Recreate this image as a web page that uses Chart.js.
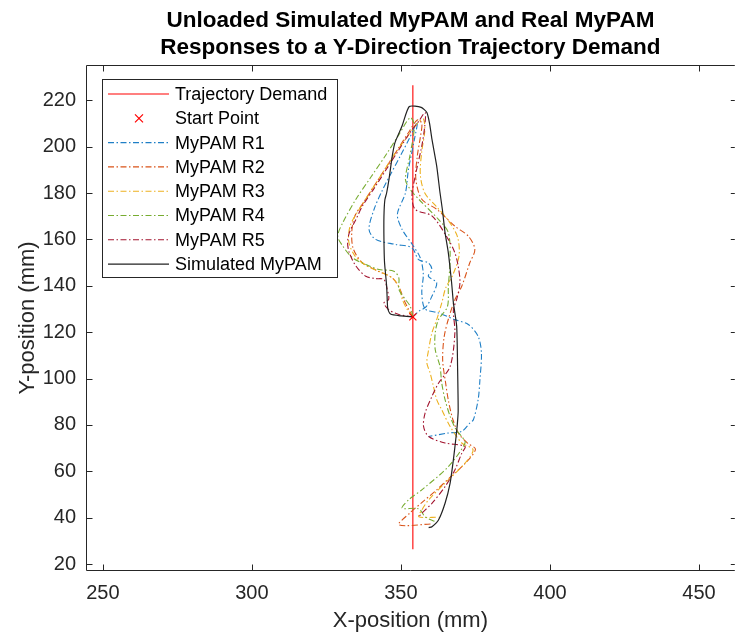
<!DOCTYPE html>
<html>
<head>
<meta charset="utf-8">
<script src="https://cdn.jsdelivr.net/npm/chart.js@4.4.1/dist/chart.umd.min.js"></script>
<style>
  html, body { margin: 0; padding: 0; background: #fff; }
</style>
</head>
<body>
<canvas id="chart" width="741" height="637"></canvas>
<script>
// axis ranges and tick labels
const xMin = 244.35, xMax = 462.0;
const yMin = 17.0, yMax = 235.2;
const xTicks = [250, 300, 350, 400, 450];
const yTicks = [20, 40, 60, 80, 100, 120, 140, 160, 180, 200, 220];

const titleLines = ["Unloaded Simulated MyPAM and Real MyPAM", "Responses to a Y-Direction Trajectory Demand"];
const labels = ["Trajectory Demand", "Start Point", "MyPAM R1", "MyPAM R2", "MyPAM R3", "MyPAM R4", "MyPAM R5", "Simulated MyPAM"];

// trajectory demand and start point
const demandX = [354.0, 354.0];
const demandY = [26.4, 226.5];
const startX = [354.0];
const startY = [126.6];

// real MyPAM runs
const r1X = [354.0, 356.0, 358.5, 360.4, 362.0, 359.2, 360.4, 359.2, 355.9, 353.7, 348.2, 341.5, 339.3, 341.0, 343.7, 346.5, 349.8, 353.0, 355.5, 354.5, 352.5, 351.5, 348.8, 350.4, 353.7, 356.5, 357.5, 357.0, 358.1, 362.6, 368.1, 372.6, 375.9, 377.0, 376.5, 375.9, 374.3, 373.1, 370.4, 365.9, 359.3];
const r1Y = [126.6, 129.0, 131.0, 135.5, 141.3, 144.1, 147.0, 149.9, 151.3, 156.4, 157.8, 160.0, 164.3, 173.0, 181.0, 188.0, 196.0, 204.0, 210.5, 203.0, 190.0, 180.0, 170.8, 164.3, 158.0, 152.0, 145.0, 137.0, 130.0, 128.3, 125.4, 123.3, 118.2, 111.0, 99.5, 90.9, 82.2, 80.8, 77.2, 76.5, 75.0];

const r2X = [354.0, 352.5, 351.0, 349.5, 347.0, 342.0, 337.0, 334.0, 333.5, 334.5, 337.5, 341.0, 345.0, 349.0, 352.5, 355.5, 357.0, 356.5, 355.5, 355.0, 357.0, 362.0, 368.1, 372.6, 374.8, 373.1, 370.4, 368.1, 366.0, 364.5, 364.0, 365.0, 366.0, 367.5, 369.5, 372.5, 375.0, 372.0, 367.0, 362.0, 357.0, 353.0, 349.3, 360.4];
const r2Y = [126.6, 130.0, 134.0, 139.0, 143.5, 146.5, 150.0, 156.0, 163.0, 170.0, 176.0, 183.0, 191.0, 199.0, 206.0, 211.5, 210.0, 204.0, 196.0, 186.0, 177.3, 173.0, 165.7, 161.4, 155.7, 149.9, 139.8, 134.0, 126.0, 118.0, 108.0, 98.0, 90.0, 82.0, 76.0, 72.0, 69.5, 64.0, 58.0, 52.0, 46.5, 42.0, 36.9, 37.3];

const r3X = [354.0, 352.0, 350.5, 349.5, 347.5, 343.0, 338.0, 334.5, 332.5, 333.0, 336.0, 340.0, 344.0, 348.0, 352.0, 355.5, 357.5, 358.0, 357.0, 356.5, 358.0, 362.0, 366.0, 369.0, 369.5, 367.5, 365.0, 363.7, 362.0, 360.4, 359.3, 358.7, 359.8, 360.9, 362.0, 363.7, 366.5, 370.4, 374.2, 371.5, 364.8, 359.3, 357.0, 356.0, 362.6];
const r3Y = [126.6, 130.0, 134.0, 139.0, 143.0, 146.0, 149.0, 153.0, 159.0, 166.0, 173.0, 181.0, 189.0, 197.0, 204.0, 210.0, 212.0, 207.0, 198.0, 188.0, 180.0, 174.0, 168.0, 161.0, 153.0, 145.0, 139.0, 132.6, 125.4, 119.7, 112.5, 106.7, 102.4, 96.6, 90.9, 86.5, 79.3, 72.2, 69.3, 63.5, 54.9, 47.7, 43.3, 40.4, 40.2];

const r4X = [354.0, 353.1, 351.5, 349.3, 349.3, 347.6, 342.6, 338.2, 333.8, 330.5, 328.8, 330.5, 334.9, 340.0, 345.0, 349.0, 353.1, 354.5, 353.0, 351.5, 353.1, 356.0, 362.6, 365.9, 366.5, 365.9, 365.6, 362.6, 361.5, 361.5, 363.1, 363.7, 364.8, 366.5, 368.5, 370.4, 371.5, 365.9, 357.0, 352.6, 350.4, 356.0, 358.1, 361.5];
const r4Y = [126.6, 131.2, 134.1, 138.4, 143.4, 146.3, 147.0, 149.2, 152.0, 157.1, 161.4, 167.2, 177.3, 187.0, 196.5, 204.5, 212.5, 209.0, 196.0, 185.9, 181.6, 177.3, 168.6, 162.9, 151.3, 139.8, 131.0, 125.4, 119.7, 112.5, 105.2, 98.0, 90.9, 83.7, 78.0, 75.0, 72.2, 62.0, 52.0, 47.7, 44.1, 43.8, 40.4, 38.3];

const r5X = [354.0, 349.3, 345.9, 344.3, 345.9, 345.4, 344.3, 341.5, 338.2, 334.9, 332.7, 332.1, 332.7, 334.9, 337.1, 341.0, 345.0, 349.0, 353.0, 356.0, 358.1, 358.0, 357.0, 354.8, 353.7, 354.8, 360.4, 365.9, 368.1, 369.2, 369.8, 368.7, 367.6, 368.1, 366.5, 362.6, 360.4, 358.1, 357.6, 359.3, 364.8, 371.5, 370.4, 368.1, 364.8, 360.4, 357.0, 356.0];
const r5Y = [126.6, 127.6, 129.7, 132.6, 134.1, 138.4, 142.7, 143.1, 144.1, 148.5, 154.2, 158.5, 162.9, 168.6, 174.4, 182.0, 190.0, 198.0, 206.0, 211.0, 214.7, 209.0, 200.3, 187.3, 178.7, 172.9, 170.1, 160.0, 154.2, 148.5, 141.3, 134.1, 129.7, 119.7, 105.2, 98.0, 92.3, 85.1, 79.3, 75.0, 72.2, 70.7, 67.8, 60.6, 53.4, 46.2, 41.9, 40.4];

// simulated MyPAM
const simX = [354.0, 350.0, 346.5, 345.6, 345.4, 345.2, 344.5, 344.3, 344.3, 344.6, 345.2, 346.0, 347.1, 348.0, 350.4, 352.8, 356.8, 358.7, 359.6, 360.4, 362.0, 363.1, 363.9, 364.8, 365.9, 367.0, 367.6, 368.7, 369.0, 369.2, 368.9, 368.5, 367.6, 366.5, 364.8, 362.6, 360.4, 359.3];
const simY = [126.6, 127.0, 127.8, 130.0, 134.0, 140.0, 150.0, 160.0, 170.0, 177.0, 180.0, 186.0, 196.0, 201.7, 209.0, 217.3, 216.9, 214.7, 210.0, 203.2, 191.6, 180.2, 172.9, 162.9, 154.2, 141.3, 132.6, 122.5, 105.2, 86.0, 80.0, 75.0, 65.0, 54.9, 46.2, 39.0, 36.1, 35.7];

const FONT = "'Liberation Sans', Arial, Helvetica, sans-serif";
const AXIS = "#262626";
const DASHDOT = [6, 2.5, 1.5, 2.5];
const TICK = 6;

Chart.defaults.font.family = FONT;

const pts = (xs, ys) => xs.map((x, i) => ({ x: x, y: ys[i] }));

function run(label, xs, ys, color, order) {
  return {
    label, data: pts(xs, ys), showLine: true, borderColor: color, backgroundColor: color,
    borderWidth: 1.1, borderDash: DASHDOT, pointRadius: 0, tension: 0.3, order
  };
}

const datasets = [
  { label: labels[0], data: pts(demandX, demandY), showLine: true, borderColor: "#ff0000",
    borderWidth: 1.1, pointRadius: 0, order: 8 },
  { label: labels[1], data: pts(startX, startY), showLine: false, borderColor: "#ff0000",
    backgroundColor: "#ff0000", pointStyle: "crossRot", pointRadius: 5, borderWidth: 1.2, order: 0 },
  run(labels[2], r1X, r1Y, "#1f7fc6", 6),
  run(labels[3], r2X, r2Y, "#D95319", 5),
  run(labels[4], r3X, r3Y, "#EDB120", 4),
  run(labels[5], r4X, r4Y, "#77AC30", 3),
  run(labels[6], r5X, r5Y, "#A2142F", 2),
  { label: labels[7], data: pts(simX, simY), showLine: true, borderColor: "#222222",
    borderWidth: 1.2, pointRadius: 0, tension: 0.2, order: 1 }
];

// axes box (right edge is cut off by the picture), inward ticks, legend inside the plot
const framePlugin = {
  id: "frame",
  afterDatasetsDraw(chart) {
    const { ctx, chartArea: a, scales: { x, y } } = chart;
    const L = Math.round(a.left) + 0.5, T = Math.round(a.top) + 0.5, B = Math.round(a.bottom) - 0.5;
    ctx.save();
    ctx.strokeStyle = AXIS;
    ctx.lineWidth = 1;
    ctx.setLineDash([]);
    ctx.beginPath();
    xTicks.forEach(v => {
      const p = Math.round(x.getPixelForValue(v)) + 0.5;
      ctx.moveTo(p, B); ctx.lineTo(p, B - TICK);
      ctx.moveTo(p, T); ctx.lineTo(p, T + TICK);
    });
    yTicks.forEach(v => {
      const p = Math.round(y.getPixelForValue(v)) + 0.5;
      ctx.moveTo(L, p); ctx.lineTo(L + TICK, p);
      ctx.moveTo(a.right, p); ctx.lineTo(a.right - TICK + 2, p);
    });
    ctx.moveTo(a.right, T); ctx.lineTo(L, T); ctx.lineTo(L, B); ctx.lineTo(a.right, B);
    ctx.stroke();

    // legend
    const bx = a.left + 16, by = a.top + 14, bw = 235, bh = 198;
    ctx.fillStyle = "#fff";
    ctx.fillRect(bx, by, bw, bh);
    ctx.strokeRect(bx + 0.5, by + 0.5, bw, bh);
    ctx.font = "18px " + FONT;
    ctx.textBaseline = "middle";
    chart.data.datasets.forEach((ds, i) => {
      const cy = by + 15 + i * 24.3;
      ctx.strokeStyle = ds.borderColor;
      ctx.lineWidth = ds.borderWidth;
      if (ds.showLine) {
        ctx.setLineDash(ds.borderDash || []);
        ctx.beginPath();
        ctx.moveTo(bx + 6, cy); ctx.lineTo(bx + 67, cy);
        ctx.stroke();
      } else {
        ctx.setLineDash([]);
        const cx = bx + 37, r = 4;
        ctx.beginPath();
        ctx.moveTo(cx - r, cy - r); ctx.lineTo(cx + r, cy + r);
        ctx.moveTo(cx - r, cy + r); ctx.lineTo(cx + r, cy - r);
        ctx.stroke();
      }
      ctx.fillStyle = "#000";
      ctx.fillText(ds.label, bx + 73, cy + 1);
    });
    ctx.restore();
  }
};

new Chart(document.getElementById("chart"), {
  type: "scatter",
  data: { datasets },
  options: {
    responsive: false,
    animation: false,
    layout: { padding: { top: 0, right: 0, left: 0, bottom: 0 } },
    plugins: {
      legend: { display: false },
      tooltip: { enabled: false },
      title: {
        display: true, fullSize: false, text: titleLines, color: "#000",
        font: { size: 22.5, weight: "bold", lineHeight: 1.2 },
        padding: { top: 7, bottom: 4 }
      }
    },
    scales: {
      x: {
        type: "linear", min: xMin, max: xMax,
        afterBuildTicks: s => { s.ticks = xTicks.map(v => ({ value: v })); },
        afterFit: s => { s.height = 66; s.paddingLeft = 0; s.paddingRight = 0; },
        grid: { display: false, drawTicks: false },
        border: { display: false },
        ticks: { color: AXIS, font: { size: 20 }, padding: 10, maxRotation: 0 },
        title: { display: true, text: "X-position (mm)", color: AXIS, font: { size: 22 }, padding: { top: 0, bottom: 3 } }
      },
      y: {
        type: "linear", min: yMin, max: yMax,
        afterBuildTicks: s => { s.ticks = yTicks.map(v => ({ value: v })); },
        afterFit: s => { s.width = 86; s.paddingTop = 0; s.paddingBottom = 0; },
        grid: { display: false, drawTicks: false },
        border: { display: false },
        ticks: { color: AXIS, font: { size: 20 }, padding: 10 },
        title: { display: true, text: "Y-position (mm)", color: AXIS, font: { size: 22 }, padding: { top: 15, bottom: 0 } }
      }
    }
  },
  plugins: [framePlugin]
});
</script>
</body>
</html>
